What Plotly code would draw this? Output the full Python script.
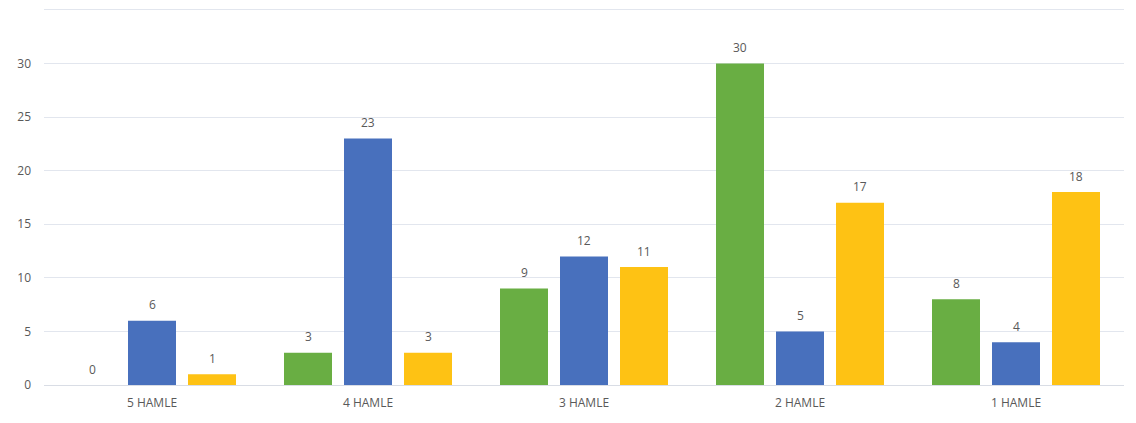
import plotly.graph_objects as go

categories = ["5 HAMLE", "4 HAMLE", "3 HAMLE", "2 HAMLE", "1 HAMLE"]
green_vals = [0, 3, 9, 30, 8]
blue_vals = [6, 23, 12, 5, 4]
yellow_vals = [1, 3, 11, 17, 18]
y_ticks = [0, 5, 10, 15, 20, 25, 30, 35]

series = [
    ("Seri 1", green_vals, "#69AE43"),
    ("Seri 2", blue_vals, "#4870BD"),
    ("Seri 3", yellow_vals, "#FEC214"),
]

fig = go.Figure()
for name, vals, col in series:
    fig.add_trace(go.Bar(
        name=name, x=categories, y=vals,
        marker=dict(color=col, line=dict(width=0)),
        hoverinfo="x+y",
    ))

# value labels above bars
offsets = [-60, 0, 60]
for (name, vals, col), dx in zip(series, offsets):
    for c, v in zip(categories, vals):
        fig.add_annotation(x=c, y=v, text=str(v), showarrow=False,
                           xshift=dx, yshift=16,
                           font=dict(family="Open Sans, Arial", size=12, color="#595959"))

fig.update_layout(
    width=1128, height=415,
    margin=dict(l=36, r=12, t=0, b=38),
    paper_bgcolor="white", plot_bgcolor="white",
    barmode="group", bargap=0.1667, bargroupgap=0.2,
    showlegend=False,
    font=dict(family="Open Sans, Arial", size=12, color="#595959"),
    xaxis=dict(showgrid=False, showline=False, ticks="", automargin=False,
               ticklabelstandoff=9, tickfont=dict(size=12, color="#595959")),
    yaxis=dict(range=[0, 35.18], tickvals=y_ticks, showgrid=True, gridcolor="#E2E6EE",
               zeroline=True, zerolinecolor="#D9DDE5", zerolinewidth=1, automargin=False,
               ticks="", ticklabelstandoff=12, tickfont=dict(size=12, color="#595959")),
)

fig.write_html("out.html")
